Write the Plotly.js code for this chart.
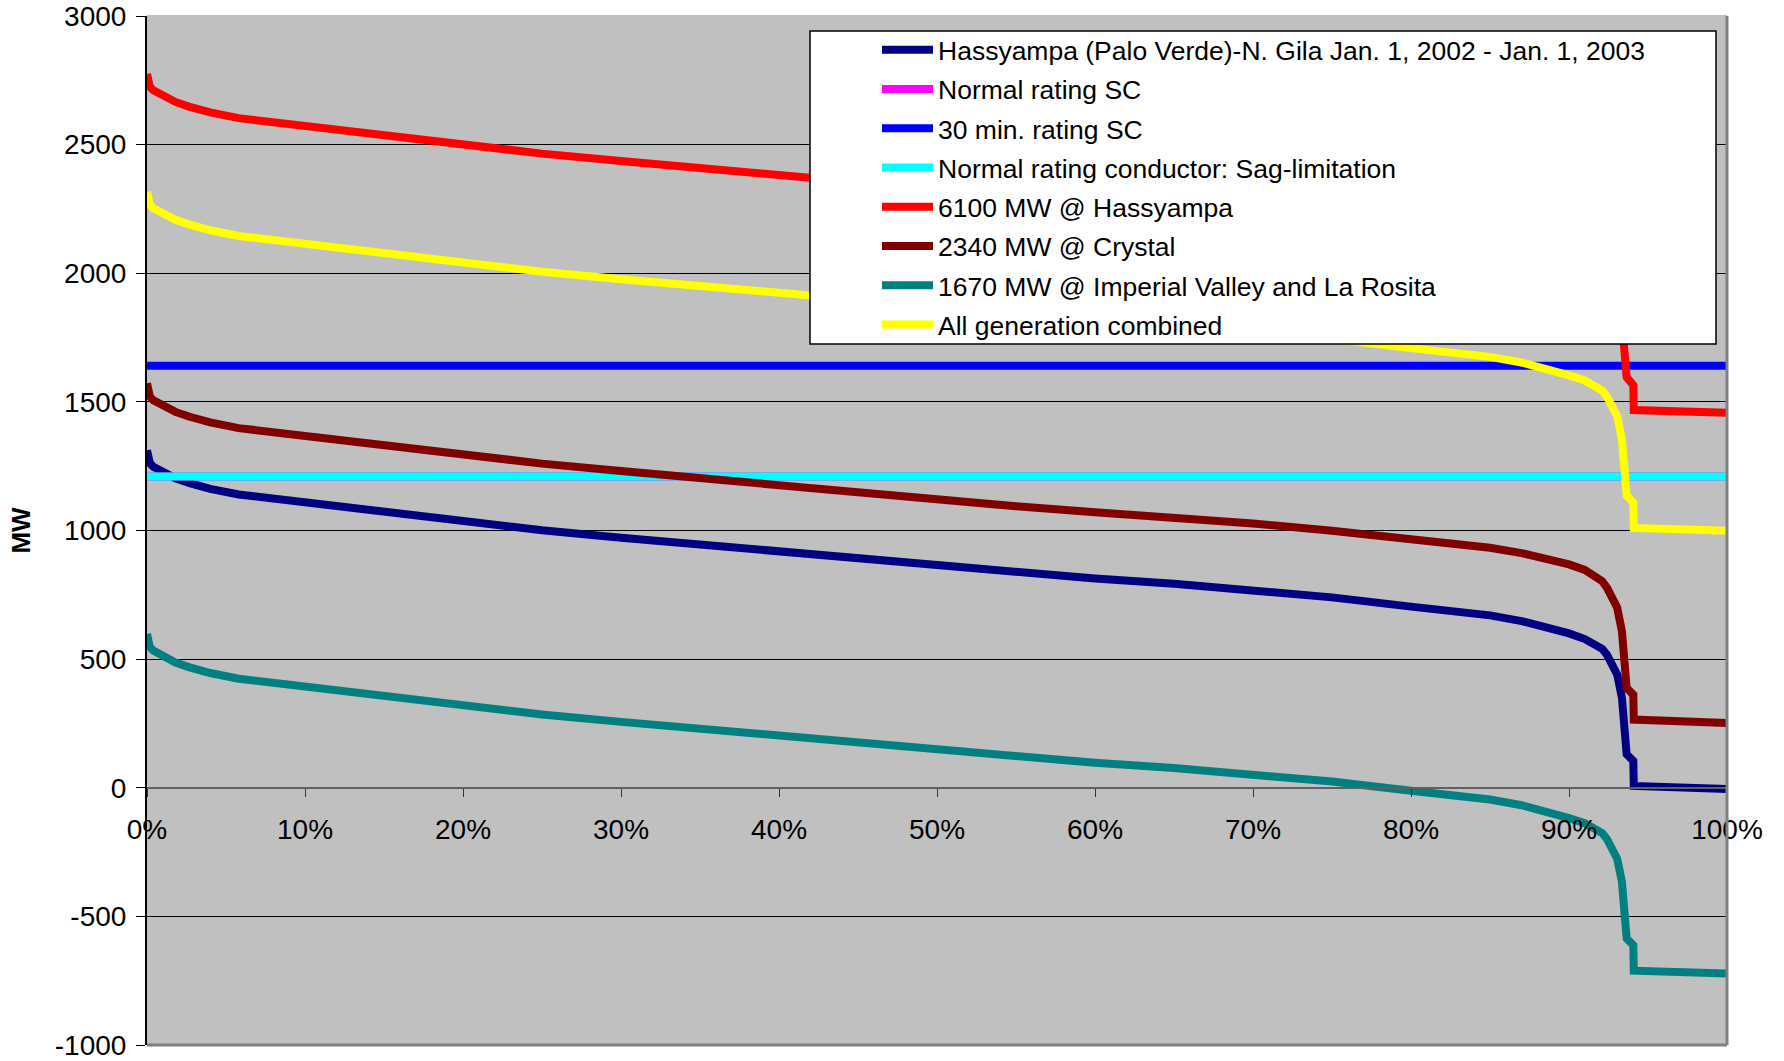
<!DOCTYPE html>
<html><head><meta charset="utf-8">
<script src="https://cdn.plot.ly/plotly-3.0.1.min.js"></script>
<style>html,body{margin:0;padding:0;background:#fff;overflow:hidden}</style>
</head><body><div id="chart" style="width:1784px;height:1061px"></div>
<script>
// Share of hours (duration), as a fraction of the year
const pct = [0, 0.0008, 0.0018, 0.004, 0.008, 0.012, 0.018, 0.027, 0.04, 0.058, 0.08, 0.10, 0.125, 0.15, 0.175, 0.20, 0.25, 0.30, 0.35, 0.40, 0.45, 0.50, 0.55, 0.60, 0.65, 0.70, 0.75, 0.80, 0.83, 0.85, 0.87, 0.885, 0.90, 0.91, 0.9175, 0.921, 0.924, 0.927, 0.9305, 0.9335, 0.935, 0.9365, 0.9407, 0.941, 1.0];

// MW flows
const hassyampa = [1312, 1285, 1262, 1248, 1234, 1220, 1203, 1184, 1162, 1140, 1124, 1110, 1088, 1068, 1052, 1036, 1001, 972, 945, 915, 888, 862, 836, 813, 793, 770, 740, 704, 685, 670, 648, 625, 600, 578, 556, 540, 517, 485, 440, 350, 246, 130, 104, 7, -5];
const gen6100Hassyampa = [2775, 2748, 2725, 2711, 2697, 2683, 2666, 2647, 2625, 2603, 2587, 2572, 2551, 2531, 2515, 2499, 2465, 2436, 2408, 2378, 2351, 2325, 2300, 2276, 2256, 2233, 2203, 2167, 2148, 2133, 2111, 2088, 2061, 2041, 2019, 2003, 1980, 1948, 1903, 1812, 1708, 1596, 1565, 1468, 1458];
const gen2340Crystal = [1572, 1544, 1521, 1506, 1492, 1478, 1461, 1442, 1420, 1398, 1382, 1368, 1346, 1326, 1310, 1294, 1260, 1231, 1203, 1173, 1146, 1120, 1094, 1071, 1051, 1027, 999, 965, 947, 933, 912, 892, 868, 847, 822, 803, 778, 745, 700, 608, 504, 388, 362, 265, 252];
const gen1670ImperialValley = [598, 570, 547, 533, 518, 504, 487, 468, 446, 424, 408, 394, 372, 352, 336, 320, 285, 256, 229, 199, 172, 146, 120, 97, 77, 54, 24, -12, -31, -46, -68, -91, -118, -138, -160, -176, -199, -231, -276, -366, -470, -586, -612, -711, -722];
const allGeneration = [2316, 2290, 2267, 2253, 2239, 2225, 2208, 2189, 2167, 2145, 2129, 2115, 2093, 2073, 2057, 2041, 2006, 1977, 1950, 1920, 1893, 1867, 1841, 1818, 1798, 1775, 1745, 1709, 1690, 1675, 1653, 1630, 1603, 1583, 1560, 1544, 1521, 1489, 1444, 1354, 1250, 1136, 1108, 1010, 999];

// Constant ratings
const ratingX = [0, 1];
const normalRatingSC = [1210, 1210];
const rating30minSC = [1640, 1640];
const normalRatingConductor = [1210, 1210];

// Axis ticks
const yTickVals = [-1000, -500, 0, 500, 1000, 1500, 2000, 2500, 3000];
const yTickText = ["-1000", "-500", "0", "500", "1000", "1500", "2000", "2500", "3000"];

const seriesNames = [
  "Hassyampa (Palo Verde)-N. Gila Jan. 1, 2002 - Jan. 1, 2003",
  "Normal rating SC",
  "30 min. rating SC",
  "Normal rating conductor: Sag-limitation",
  "6100 MW @ Hassyampa",
  "2340 MW @ Crystal",
  "1670 MW @ Imperial Valley and La Rosita",
  "All generation combined"
];
const seriesColors = ["#000080", "#FF00FF", "#0000FF", "#00FFFF", "#FF0000", "#800000", "#008080", "#FFFF00"];

const xs = [pct, ratingX, ratingX, ratingX, pct, pct, pct, pct];
const ys = [hassyampa, normalRatingSC, rating30minSC, normalRatingConductor, gen6100Hassyampa, gen2340Crystal, gen1670ImperialValley, allGeneration];

const traces = seriesNames.map((n, i) => ({
  type: "scatter", mode: "lines", name: n, legendgroup: "g" + i,
  x: xs[i], y: ys[i],
  line: {color: seriesColors[i], width: 8},
  hoverinfo: "skip"
}));

const FONT = "Arial, 'Liberation Sans', sans-serif";
const TOP = 16, BOTTOM = 1045, LEFT = 147, RIGHT = 1727;
const PW = RIGHT - LEFT, PH = BOTTOM - TOP;

const layout = {
  width: 1784, height: 1061,
  margin: {l: LEFT, r: 1784 - RIGHT, t: TOP, b: 1061 - BOTTOM, pad: 0},
  paper_bgcolor: "#ffffff",
  plot_bgcolor: "#C0C0C0",
  font: {family: FONT, color: "#000"},
  showlegend: true,
  legend: {
    x: (877 - LEFT) / PW, y: (BOTTOM - 26) / PH, xanchor: "left", yanchor: "top",
    bgcolor: "rgba(0,0,0,0)", borderwidth: 0,
    font: {family: FONT, size: 26.5, color: "#000"},
    itemwidth: 51, traceorder: "grouped", tracegroupgap: 1.8
  },
  xaxis: {
    range: [0, 1], dtick: 0.1, tick0: 0, tickformat: ".0%",
    anchor: "free", position: 0.25,
    showline: true, linecolor: "#606060", linewidth: 2,
    ticks: "outside", ticklen: 8, tickcolor: "#333", tickwidth: 1,
    ticklabelstandoff: 9,
    showgrid: false, zeroline: false,
    tickfont: {family: FONT, size: 28, color: "#000"},
    fixedrange: true
  },
  yaxis: {
    range: [-1000, 3000], tickmode: "array", tickvals: yTickVals, ticktext: yTickText,
    showline: true, linecolor: "#000", linewidth: 2,
    ticks: "outside", ticklen: 9, tickcolor: "#000", tickwidth: 1,
    ticklabelstandoff: 4, ticklabeloverflow: "allow",
    showgrid: true, gridcolor: "#000", gridwidth: 1,
    zeroline: false,
    tickfont: {family: FONT, size: 28, color: "#000"},
    title: {text: "<b>MW</b>", font: {family: FONT, size: 26, color: "#000"}, standoff: 17},
    fixedrange: true
  },
  shapes: [
    {type: "line", xref: "paper", yref: "paper", layer: "between", x0: 0, x1: 1, y0: 1, y1: 1,
     line: {color: "#C0C0C0", width: 2}},
    {type: "rect", xref: "paper", yref: "paper", layer: "above",
     x0: (810 - LEFT) / PW, x1: (1716 - LEFT) / PW, y0: (BOTTOM - 344) / PH, y1: (BOTTOM - 31) / PH,
     fillcolor: "#ffffff", line: {color: "#000", width: 1.5}},
    {type: "line", xref: "paper", yref: "paper", layer: "above", x0: 1, x1: 1, y0: 0, y1: 1,
     line: {color: "#808080", width: 3}},
    {type: "line", xref: "paper", yref: "paper", layer: "above", x0: 0, x1: 1, y0: 0, y1: 0,
     line: {color: "#808080", width: 3}}
  ]
};

Plotly.newPlot("chart", traces, layout, {displayModeBar: false, staticPlot: true});
</script>
</body></html>
